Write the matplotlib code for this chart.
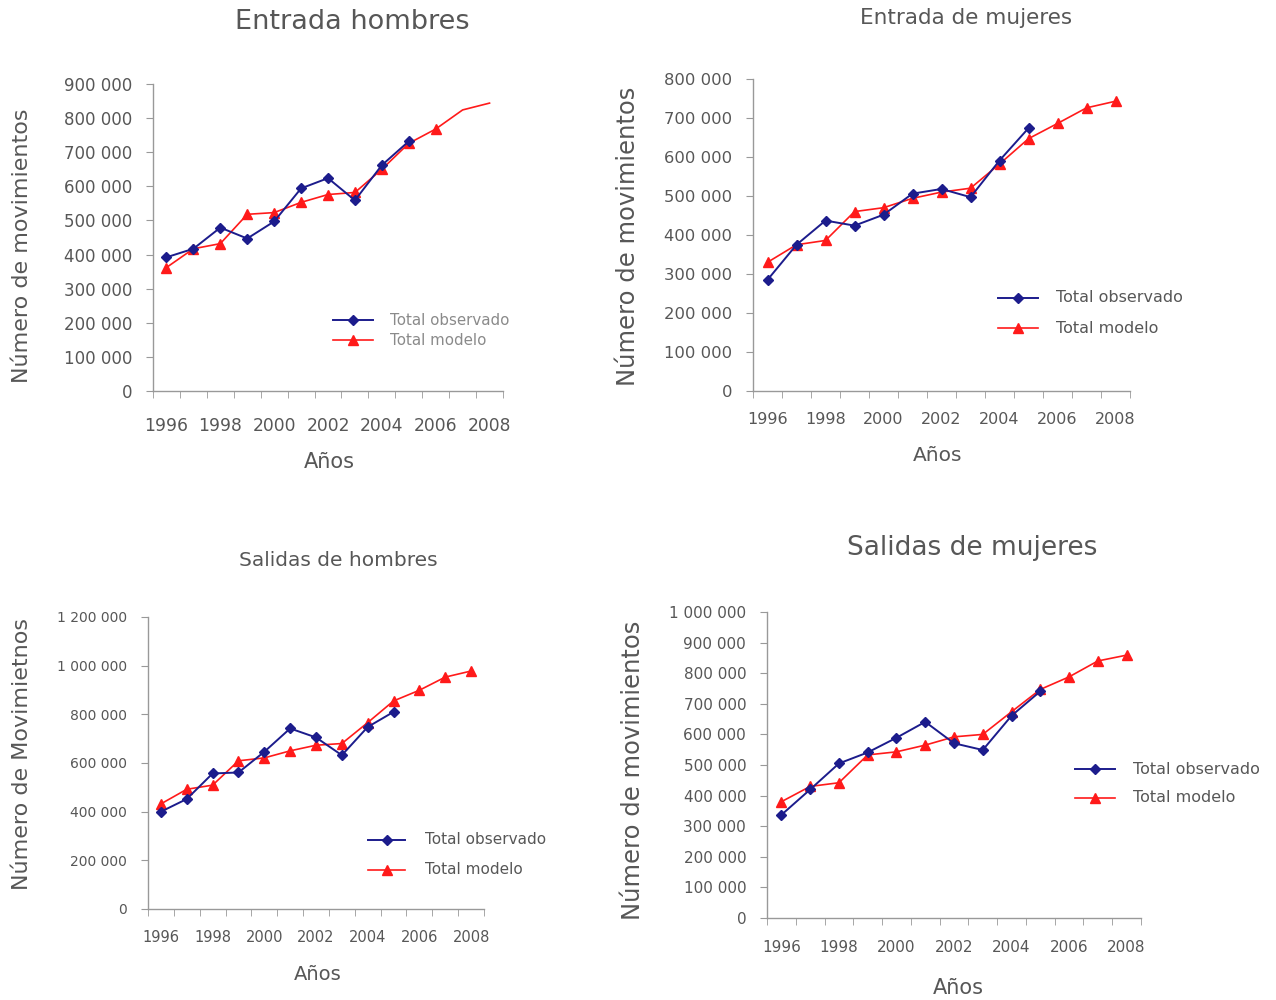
import matplotlib
matplotlib.use("Agg")
import matplotlib.pyplot as plt
import numpy as np

years = list(range(1996, 2009))
years_obs = list(range(1996, 2006))

# Entrada hombres
eh_obs = [392000, 417000, 479000, 447000, 497000, 594000, 624000, 559000, 662000, 732000]
eh_mod = [362000, 417000, 432000, 518000, 523000, 553000, 576000, 582000, 650000, 726000, 768000, 824000, 844000]

# Entrada de mujeres
em_obs = [285000, 375000, 437000, 424000, 452000, 506000, 518000, 497000, 591000, 674000]
em_mod = [330000, 375000, 386000, 460000, 470000, 494000, 510000, 520000, 582000, 647000, 686000, 726000, 743000]

# Salidas de hombres
sh_obs = [400000, 452000, 557000, 561000, 646000, 742000, 705000, 632000, 748000, 810000]
sh_mod = [432000, 492000, 509000, 609000, 621000, 650000, 673000, 680000, 766000, 855000, 899000, 953000, 978000]

# Salidas de mujeres
sm_obs = [337000, 420000, 505000, 541000, 589000, 641000, 571000, 549000, 661000, 741000]
sm_mod = [380000, 430000, 442000, 533000, 543000, 565000, 592000, 600000, 674000, 747000, 788000, 840000, 859000]

xtick_labels = ["1996", "1998", "2000", "2002", "2004", "2006", "2008"]

W, H = 1276, 1000
fig = plt.figure(figsize=(W / 100, H / 100), dpi=100)

OBS_C = "#1c1c8c"
MOD_C = "#ff1a1a"
TXT_C = "#575757"
AX_C = "#999999"


def fmt(v):
    return f"{int(v):,}".replace(",", " ")


def make_ax(box, title, tfs, tpos, ylabel, ylfs, ylpos, xlfs, xly, ymax, ystep,
            obs, mod, mod_markers, tickfs, xtfs, xpad, legpos, legfs, legc, legdy):
    l, r, t, b = box
    ax = fig.add_axes([l / W, 1 - b / H, (r - l) / W, (b - t) / H])
    ax.plot(years_obs, obs, color=OBS_C, lw=1.4, marker="D", ms=5.5, zorder=3,
            label="Total observado")
    ax.plot(years, mod, color=MOD_C, lw=1.2, marker="^", ms=7.5, zorder=2,
            markevery=mod_markers, label="Total modelo")
    ax.set_xlim(1995.5, 2008.5)
    ax.set_ylim(0, ymax)
    yt = np.arange(0, ymax + 1, ystep)
    ax.set_yticks(yt)
    ax.set_yticklabels([fmt(v) for v in yt], fontsize=tickfs, color=TXT_C)
    ax.set_xticks(list(range(1996, 2009, 2)))
    ax.set_xticklabels(xtick_labels, fontsize=xtfs, color=TXT_C)
    ax.set_xticks(np.arange(1995.5, 2009, 1.0), minor=True)
    ax.tick_params(axis="x", which="major", length=0, pad=xpad)
    ax.tick_params(axis="x", which="minor", length=5, color=AX_C, direction="out")
    ax.tick_params(axis="y", length=5, color=AX_C, direction="out", pad=10)
    for s in ["top", "right"]:
        ax.spines[s].set_visible(False)
    for s in ["left", "bottom"]:
        ax.spines[s].set_color(AX_C)
        ax.spines[s].set_linewidth(1.0)
    ax.patch.set_alpha(0)
    fig.text(tpos[0] / W, 1 - tpos[1] / H, title, fontsize=tfs, color=TXT_C,
             ha="center", va="center")
    fig.text(ylpos[0] / W, 1 - ylpos[1] / H, ylabel, fontsize=ylfs, color=TXT_C,
             rotation=90, ha="center", va="center")
    fig.text(xly[0] / W, 1 - xly[1] / H, "Años", fontsize=xlfs, color=TXT_C,
             ha="center", va="center")
    lx0, lx1, tx, y1 = legpos
    leg_items = [("Total observado", OBS_C, "D", 5.5, 1.4),
                 ("Total modelo", MOD_C, "^", 7.5, 1.2)]
    for i, (lab, c, mk, ms, lw) in enumerate(leg_items):
        yy = 1 - (y1 + i * legdy) / H
        fig.add_artist(matplotlib.lines.Line2D([lx0 / W, lx1 / W], [yy, yy],
                                               color=c, lw=lw, transform=fig.transFigure))
        fig.add_artist(matplotlib.lines.Line2D([(lx0 + lx1) / 2 / W], [yy],
                                               color=c, marker=mk, ms=ms, lw=0,
                                               transform=fig.transFigure))
        fig.text(tx / W, yy, lab, fontsize=legfs, color=legc, ha="left", va="center")
    return ax


make_ax((153, 503, 84, 391), "Entrada hombres", 19.5, (352, 22),
        "Número de movimientos", 16, (22, 246), 15, (329, 462), 900000, 100000,
        eh_obs, eh_mod, list(range(11)), 12, 12.3, 19,
        (333, 373, 390, 320), 10.8, "#8a8a8a", 20)

make_ax((753, 1130, 79, 391), "Entrada de mujeres", 15.5, (966, 18),
        "Número de movimientos", 17.5, (628, 236), 14.5, (938, 455), 800000, 100000,
        em_obs, em_mod, None, 11.8, 11.5, 15,
        (998, 1038, 1056, 298), 11.5, TXT_C, 30)

make_ax((148, 484, 617, 909), "Salidas de hombres", 14.5, (338, 560),
        "Número de Movimietnos", 16, (22, 754), 14, (318, 975), 1200000, 200000,
        sh_obs, sh_mod, None, 10, 10.5, 15,
        (368, 405, 425, 840), 11, TXT_C, 30)

make_ax((767, 1141, 612, 918), "Salidas de mujeres", 19, (972, 548),
        "Número de movimientos", 17.5, (633, 770), 15, (958, 988), 1000000, 100000,
        sm_obs, sm_mod, None, 11, 11, 16,
        (1075, 1115, 1133, 769), 11.5, TXT_C, 29)

fig.savefig("out.png", dpi=100)
